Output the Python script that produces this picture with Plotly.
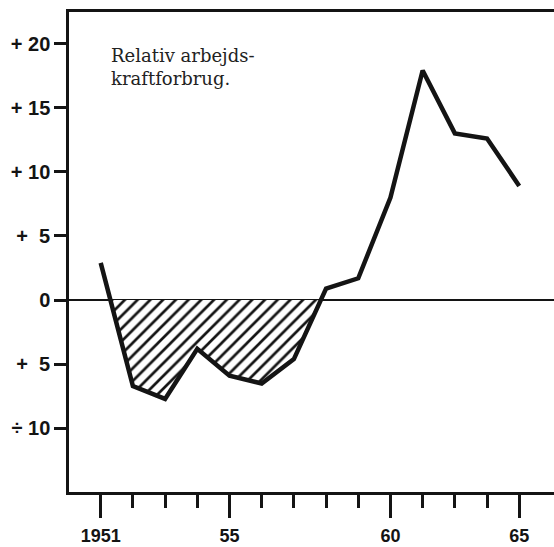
import plotly.graph_objects as go

# relative labour use, one value per year
years = [1951, 1952, 1953, 1954, 1955, 1956, 1957, 1958, 1959, 1960, 1961, 1962, 1963, 1964]
values = [2.9, -6.7, -7.7, -3.8, -5.9, -6.5, -4.6, 0.9, 1.7, 8.0, 17.9, 13.0, 12.6, 8.9]

x_tick_vals = [1951, 1955, 1960, 1964]
x_tick_text = ["1951", "55", "60", "65"]
y_tick_vals = [20, 15, 10, 5, 0, -5, -10]
y_tick_text = ["+ 20", "+ 15", "+ 10", "+\u00a0\u00a05", "0", "+\u00a0\u00a05", "÷ 10"]

INK = "#141414"


def negative_area(xs, ys):
    # polygon of the part below zero, with the crossings interpolated
    px, py = [], []
    for i in range(len(xs) - 1):
        x0, y0, x1, y1 = xs[i], ys[i], xs[i + 1], ys[i + 1]
        if y0 < 0:
            if not px:
                px.append(x0)
                py.append(0)
            px.append(x0)
            py.append(y0)
        if (y0 < 0) != (y1 < 0):
            t = y0 / (y0 - y1)
            px.append(x0 + t * (x1 - x0))
            py.append(0)
    return px, py


hx, hy = negative_area(years, values)

fig = go.Figure()

fig.add_trace(go.Scatter(
    x=hx, y=hy,
    mode="lines",
    line=dict(width=0),
    fill="toself",
    fillcolor="white",
    fillpattern=dict(shape="/", size=9, solidity=0.3, fgcolor=INK, bgcolor="white",
                     fgopacity=1, fillmode="replace"),
    hoverinfo="skip",
))

fig.add_trace(go.Scatter(
    x=years, y=values,
    mode="lines",
    line=dict(color=INK, width=4.5),
))

fig.add_annotation(
    text="Relativ arbejds-<br>kraftforbrug.",
    xref="paper", yref="paper",
    x=0.083, y=0.935,
    xanchor="left", yanchor="top",
    align="left",
    showarrow=False,
    font=dict(family="DejaVu Serif", size=18, color="#222222"),
)

fig.update_layout(
    width=554, height=547,
    margin=dict(l=69, r=0, t=12, b=55),
    paper_bgcolor="white",
    plot_bgcolor="white",
    showlegend=False,
    font=dict(family="Liberation Sans", size=18, color=INK),
)

fig.update_xaxes(
    range=[1951 - 0.985, 1951 + 14.08],
    tickmode="array",
    tickvals=x_tick_vals,
    ticktext=x_tick_text,
    ticks="outside",
    ticklen=23,
    tickwidth=2.5,
    tickcolor=INK,
    ticklabelstandoff=3,
    tickfont=dict(family="Liberation Sans", size=18, color=INK, weight="bold"),
    minor=dict(tickmode="array", tickvals=years, ticks="outside", ticklen=13,
               tickwidth=2.5, tickcolor=INK, showgrid=False),
    showline=True,
    linecolor=INK,
    linewidth=2.5,
    mirror=True,
    showgrid=False,
    zeroline=False,
    automargin=False,
)

fig.update_yaxes(
    range=[-14.96, 22.46],
    tickmode="array",
    tickvals=y_tick_vals,
    ticktext=y_tick_text,
    ticks="outside",
    ticklen=12,
    tickwidth=2.5,
    tickcolor=INK,
    tickfont=dict(family="Liberation Sans", size=20, color=INK, weight="bold"),
    showline=True,
    linecolor=INK,
    linewidth=2.5,
    showgrid=False,
    zeroline=True,
    zerolinecolor=INK,
    zerolinewidth=1.5,
    automargin=False,
)

# drop the page's default body margin so the figure sits at the window corner
fig.write_html("out.html",
               config={"displayModeBar": False},
               post_script="document.body.style.margin='0';document.body.style.overflow='hidden';")
